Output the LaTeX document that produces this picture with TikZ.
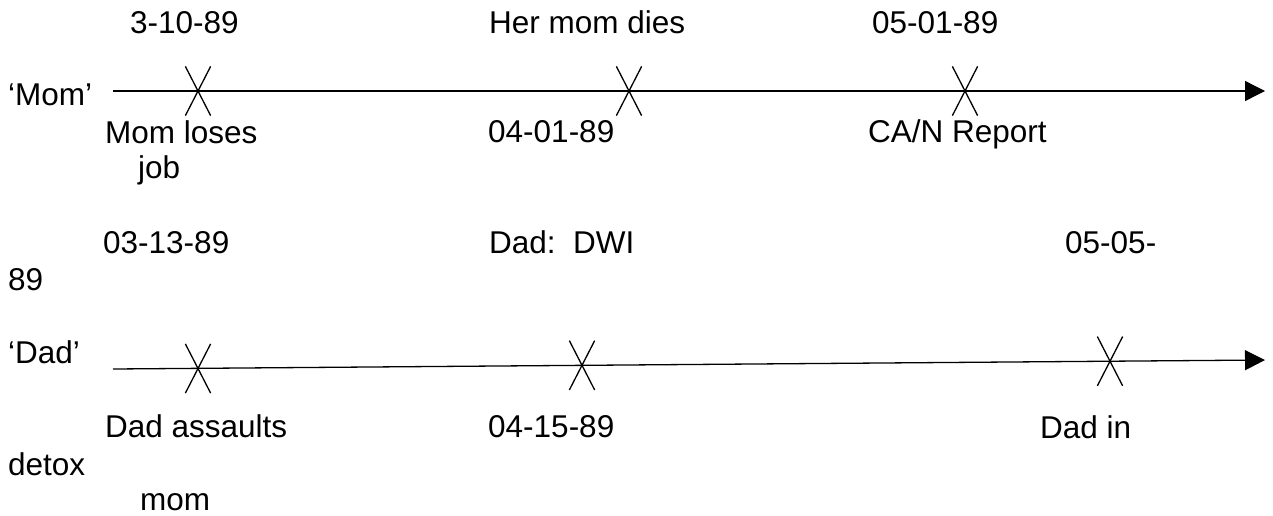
\documentclass[tikz,border=0pt]{standalone}
\usepackage{fontspec}
\setmainfont{Liberation Sans}
\usetikzlibrary{arrows.meta,shapes.misc}
\begin{document}
\begin{tikzpicture}[x=1pt,y=-1pt,
  lbl/.style={anchor=base west,inner sep=0pt,font=\fontsize{31.5}{36}\selectfont},
  tline/.style={line width=1.3pt,-{Triangle[length=20pt,width=20pt]}},
  xmark/.style={cross out,draw,line width=1.3pt,inner sep=0pt,minimum width=24pt,minimum height=48pt}]
\useasboundingbox (0,0) rectangle (1273,515);
% Mom timeline
\coordinate (ms) at (113,91);
\coordinate (me) at (1265,91);
\draw[tline] (ms) -- (me);
\node[xmark] (mx1) at (198,91) {};
\node[xmark] (mx2) at (629,91) {};
\node[xmark] (mx3) at (965,91) {};
\node[lbl] (t1) at (130,33) {3-10-89};
\node[lbl] (t2) at (489,33) {Her mom dies};
\node[lbl] (t3) at (872,33) {05-01-89};
\node[lbl] (mom) at (8,105) {‘Mom’};
\node[lbl] (b1) at (105,143) {Mom loses};
\node[lbl] (b1b) at (138,178) {job};
\node[lbl] (b2) at (488,142) {04-01-89};
\node[lbl] (b3) at (868,142) {CA/N Report};
% Dad timeline
\coordinate (ds) at (113,369);
\coordinate (de) at (1265,360);
\draw[tline] (ds) -- (de);
\node[xmark] (dx1) at (198,368.5) {};
\node[xmark] (dx2) at (582,365.3) {};
\node[xmark] (dx3) at (1110,361.2) {};
\node[lbl] (u1) at (103,253) {03-13-89};
\node[lbl] (u2) at (489,253) {Dad:\ \ DWI};
\node[lbl] (u3) at (1065,253) {05-05-};
\node[lbl] (u3b) at (8,290) {89};
\node[lbl] (dad) at (8,363) {‘Dad’};
\node[lbl] (l1) at (105,437) {Dad assaults};
\node[lbl] (l1b) at (140,510) {mom};
\node[lbl] (l2) at (488,437) {04-15-89};
\node[lbl] (l3) at (1040,438) {Dad in};
\node[lbl] (l3b) at (8,475) {detox};
\end{tikzpicture}
\end{document}
